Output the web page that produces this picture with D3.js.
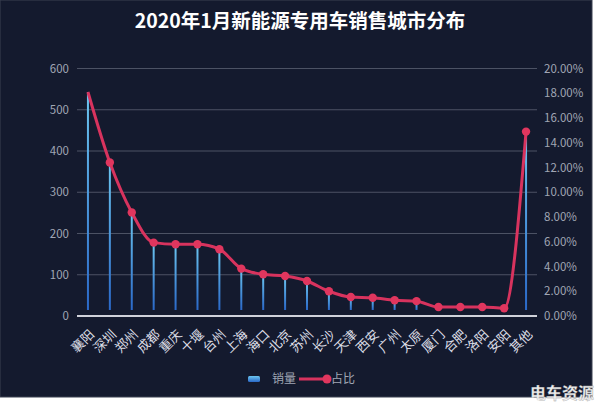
<!DOCTYPE html>
<html>
<head>
<meta charset="utf-8">
<script src="https://cdn.jsdelivr.net/npm/d3@7"></script>
<style>
  body { margin: 0; background: #fff; }
  svg { display: block; font-family: "Noto Sans CJK SC", "Noto Sans", sans-serif; }
</style>
</head>
<body>
<div id="chart-area"></div>
<script>
// data
var cities = ["襄阳", "深圳", "郑州", "成都", "重庆", "十堰", "台州", "上海", "海口", "北京", "苏州",
	"长沙", "天津", "西安", "广州", "太原", "厦门", "合肥", "洛阳", "安阳", "其他"];
var sales = [543, 372, 251, 178, 174, 174, 162, 115, 101, 97, 85, 60, 46, 44, 38, 36, 22, 22, 22, 19, 447];
var share = [18.1, 12.4, 8.37, 5.93, 5.8, 5.8, 5.4, 3.83, 3.37, 3.23, 2.83, 2.0, 1.53, 1.47, 1.27, 1.2, 0.73, 0.73, 0.73, 0.63, 14.9];
var leftTicks = [0, 100, 200, 300, 400, 500, 600];
var rightTicks = [0, 2, 4, 6, 8, 10, 12, 14, 16, 18, 20];

var W = 600, H = 409;
var margin = { left: 77, right: 63, top: 68.5, bottom: 93 };

var svg = d3.select("#chart-area")
	.append("svg")
	.attr("width", W)
	.attr("height", H);

var defs = svg.append("defs");
var grad = defs.append("linearGradient")
	.attr("id", "barGrad")
	.attr("x1", 0).attr("y1", 0).attr("x2", 0).attr("y2", 1);
grad.append("stop").attr("offset", "0%").attr("stop-color", "#6cc6f0");
grad.append("stop").attr("offset", "100%").attr("stop-color", "#2a68c8");

// background panel
svg.append("rect")
	.attr("x", 0).attr("y", 0)
	.attr("width", 592).attr("height", 397)
	.attr("fill", "#141a2e")
	.attr("stroke", "#3a4050")
	.attr("stroke-width", 1);

svg.append("text")
	.attr("x", 300)
	.attr("y", 28)
	.attr("text-anchor", "middle")
	.attr("font-size", "19.5px")
	.attr("font-weight", "bold")
	.attr("fill", "#ffffff")
	.text("2020年1月新能源专用车销售城市分布");

var x = d3.scaleBand()
	.domain(cities)
	.range([margin.left, W - margin.right]);

var y = d3.scaleLinear()
	.domain([0, 600])
	.range([H - margin.bottom, margin.top]);

var y2 = d3.scaleLinear()
	.domain([0, 20])
	.range([H - margin.bottom, margin.top]);

var cx = d => x(d) + x.bandwidth() / 2;

// grid
svg.append("g")
	.selectAll("line")
	.data(leftTicks.slice(1))
	.enter()
	.append("line")
	.attr("x1", margin.left)
	.attr("x2", W - margin.right)
	.attr("y1", d => y(d))
	.attr("y2", d => y(d))
	.attr("stroke", "#4c5264")
	.attr("stroke-width", 1.2);

// left axis labels
svg.append("g")
	.selectAll("text")
	.data(leftTicks)
	.enter()
	.append("text")
	.attr("x", 69)
	.attr("y", d => y(d))
	.attr("dy", "0.35em")
	.attr("text-anchor", "end")
	.attr("font-size", "11.5px")
	.attr("fill", "#a0a6b4")
	.text(d => d);

// right axis labels
svg.append("g")
	.selectAll("text")
	.data(rightTicks)
	.enter()
	.append("text")
	.attr("x", 544)
	.attr("y", d => y2(d))
	.attr("dy", "0.35em")
	.attr("font-size", "11.5px")
	.attr("fill", "#a0a6b4")
	.text(d => d.toFixed(2) + "%");

// bars
svg.append("g")
	.selectAll("rect")
	.data(cities)
	.enter()
	.append("rect")
	.attr("x", d => cx(d) - 1)
	.attr("width", 2)
	.attr("y", (d, i) => y(sales[i]))
	.attr("height", (d, i) => y(0) - y(sales[i]) - 6)
	.attr("fill", "url(#barGrad)");

// x axis line
svg.append("line")
	.attr("x1", margin.left)
	.attr("x2", W - margin.right)
	.attr("y1", y(0))
	.attr("y2", y(0))
	.attr("stroke", "#d0d2da")
	.attr("stroke-width", 2);

// x labels
svg.append("g")
	.selectAll("text")
	.data(cities)
	.enter()
	.append("text")
	.attr("transform", d => "translate(" + (cx(d) + 4) + "," + (y(0) + 16) + ") rotate(-45)")
	.attr("text-anchor", "end")
	.attr("dy", "0.35em")
	.attr("font-size", "13px")
	.attr("fill", "#dcdee6")
	.text(d => d);

// share line
var line = d3.line()
	.x((d, i) => cx(cities[i]))
	.y(d => y2(d))
	.curve(d3.curveMonotoneX);

svg.append("path")
	.datum(share)
	.attr("d", line)
	.attr("fill", "none")
	.attr("stroke", "#d8335e")
	.attr("stroke-width", 3);

svg.append("g")
	.selectAll("circle")
	.data(share.slice(1))
	.enter()
	.append("circle")
	.attr("cx", (d, i) => cx(cities[i + 1]))
	.attr("cy", d => y2(d))
	.attr("r", 4.2)
	.attr("fill", "#e0365e");

// legend
var lg = svg.append("g");
lg.append("rect")
	.attr("x", 248).attr("y", 376)
	.attr("width", 12).attr("height", 6)
	.attr("rx", 1.5)
	.attr("fill", "url(#barGrad)");
lg.append("text")
	.attr("x", 272).attr("y", 379)
	.attr("dy", "0.35em")
	.attr("font-size", "12px")
	.attr("fill", "#a0a6b4")
	.text("销量");
lg.append("line")
	.attr("x1", 299).attr("x2", 326)
	.attr("y1", 379).attr("y2", 379)
	.attr("stroke", "#d8335e")
	.attr("stroke-width", 3);
lg.append("circle")
	.attr("cx", 327).attr("cy", 379)
	.attr("r", 4.5)
	.attr("fill", "#e0365e");
lg.append("text")
	.attr("x", 331).attr("y", 379)
	.attr("dy", "0.35em")
	.attr("font-size", "12px")
	.attr("fill", "#a0a6b4")
	.text("占比");

// watermark
svg.append("text")
	.attr("x", 594)
	.attr("y", 399)
	.attr("text-anchor", "end")
	.attr("font-size", "16px")
	.attr("font-weight", "bold")
	.attr("fill", "#eeeeee")
	.attr("stroke", "#999")
	.attr("stroke-width", 0.3)
	.text("电车资源");
</script>
</body>
</html>
